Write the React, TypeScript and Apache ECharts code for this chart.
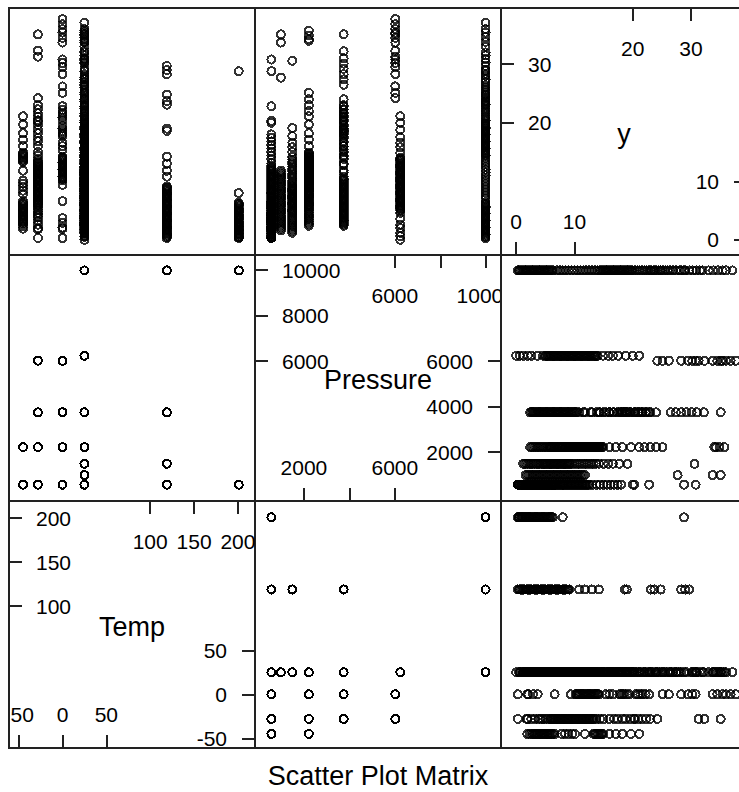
import React, { useEffect, useRef } from "react";
import * as echarts from "echarts";

const FONT = '"Liberation Sans", Arial, Helvetica, sans-serif';

// ---- Data: y values for each (Temp, Pressure) combination ----
const yTm45P570 = [1.9, 2.3, 2.7, 2.9, 3.1, 3.3, 3.5, 3.7, 3.9, 4.1, 4.3, 4.5, 4.7, 4.9, 5.1, 5.3, 5.5, 5.7, 5.9, 6.1, 6.3, 6.6];
const yTm45P2220 = [7.8, 8.4, 9.0, 9.6, 10.1, 11.8, 13.3, 13.5, 13.7, 13.9, 14.1, 14.3, 14.5, 14.7, 14.9, 16.0, 17.1, 18.2, 19.7, 21.1];

const yTm28P570 = [0.3, 1.8, 2.0, 2.6, 3.2, 3.8, 4.2, 4.6, 5.0, 5.4];
const yTm28P2220 = [5.8, 6.0, 6.2, 6.4, 6.6, 6.8, 7.0, 7.2, 7.4, 7.6, 7.8, 8.0, 8.2, 8.4, 8.6, 8.8, 9.0, 9.2, 9.4, 9.6, 9.8, 10.0, 10.2, 10.4, 10.6, 10.8, 11.0, 11.2, 11.4, 11.6, 11.8, 12.0, 12.2, 12.4, 12.6, 12.8, 13.0, 13.2, 13.4];
const yTm28P3750 = [13.8, 14.4, 15.0, 16.0, 16.8, 17.4, 18.2, 18.8, 19.6, 20.2, 20.4, 21.0, 21.6, 22.3, 23.0];
const yTm28P6020 = [24.2, 31.3, 32.3, 35.1];

const yT0P570 = [0.3, 1.9, 2.1, 2.9, 3.7, 6.6];
const yT0P2220 = [9.4, 10.2, 10.4, 10.6, 10.8, 11.0, 11.2, 11.4, 11.6, 11.8, 12.0, 12.2, 12.4, 12.6, 12.8, 13.0, 13.2, 13.4, 13.6, 13.8, 14.0, 14.2];
const yT0P3750 = [15.4, 16.0, 16.6, 17.7, 18.0, 18.3, 18.6, 19.0, 19.4, 20.5, 20.9, 21.3, 21.7, 22.2, 22.8];
const yT0P6020 = [25.1, 26.2, 28.3, 29.5, 30.2, 30.8, 33.7, 34.5, 35.4, 36.0, 36.8, 37.7];

const yT25P570 = [0.5, 0.8, 1.1, 1.4, 1.7, 2.0, 2.3, 2.6, 2.9, 3.2, 3.5, 3.8, 4.1, 4.4, 4.7, 5.0, 5.3, 5.6, 5.9, 6.1, 6.3, 6.5, 6.7, 6.9, 7.1, 7.3, 7.5, 7.7, 7.9, 8.1, 8.3, 8.5, 8.7, 8.9, 9.1, 9.3, 9.5, 9.7, 9.9, 10.1, 10.3, 10.5, 10.7, 10.9, 11.1, 11.3, 11.5, 11.7, 11.9, 12.1, 12.3, 12.6, 13.1, 13.8, 14.4, 15.0, 15.6, 16.2, 16.8, 17.4, 18.0, 20.0, 20.3, 22.8, 28.8, 30.8];
const yT25P990 = [1.6, 1.9, 2.2, 2.5, 2.8, 3.1, 3.4, 3.7, 4.0, 4.3, 4.6, 4.9, 5.2, 5.5, 5.8, 6.1, 6.4, 6.7, 7.0, 7.3, 7.6, 7.9, 8.2, 8.5, 8.8, 9.1, 9.4, 9.7, 10.0, 10.3, 10.6, 10.9, 11.2, 11.5, 11.8, 27.7, 33.7, 35.1];
const yT25P1490 = [1.2, 1.5, 1.8, 2.1, 2.4, 2.7, 3.0, 3.3, 3.6, 3.9, 4.2, 4.5, 9.3, 9.7, 10.1, 10.5, 10.9, 11.3, 11.7, 12.1, 12.5, 12.9, 13.3, 13.7, 14.2, 15.0, 15.8, 16.6, 17.7, 19.1, 30.6];
const yT25P2220 = [2.4, 2.7, 3.0, 3.3, 3.6, 3.9, 4.2, 4.5, 4.8, 5.1, 5.4, 5.7, 6.0, 22.0, 23.0, 24.0, 25.1, 34.0, 34.3, 34.9, 35.7];
const yT25P3750 = [2.4, 2.6, 2.8, 3.0, 3.2, 3.4, 3.6, 3.8, 4.0, 4.2, 4.4, 4.6, 4.8, 5.0, 5.2, 5.4, 5.6, 5.8, 6.0, 6.2, 6.4, 6.6, 6.8, 7.0, 7.2, 7.4, 7.6, 7.8, 8.0, 8.2, 8.4, 8.6, 8.8, 9.0, 9.2, 9.4, 9.6, 9.8, 10.0, 10.2, 10.4, 11.5, 12.8, 24.0, 26.5, 27.4, 28.3, 29.2, 30.1, 31.0, 32.2, 35.1];
const yT25P6240 = [0.0, 0.6, 1.2, 2.0, 2.6, 3.6, 4.6, 5.0, 5.2, 5.4, 5.6, 5.8, 6.0, 6.2, 6.4, 6.6, 6.8, 7.0, 7.2, 7.4, 7.6, 7.8, 8.0, 8.2, 8.4, 8.6, 8.8, 9.0, 9.2, 9.4, 9.6, 9.8, 10.0, 10.2, 10.4, 10.6, 10.8, 11.0, 11.2, 11.4, 11.6, 11.8, 12.0, 12.2, 12.4, 12.6, 12.8, 13.0, 13.2, 13.4, 13.6, 13.8, 14.0, 14.9, 15.8, 16.6, 17.5, 18.8, 20.0, 21.1];
const yT25P9990 = [7.0, 7.5, 8.0, 8.5, 9.0, 9.5, 10.0, 10.5, 11.0, 11.5, 12.0, 12.5, 13.0, 13.5, 14.0, 14.4, 14.6, 14.8, 15.0, 15.2, 15.4, 15.6, 15.8, 16.0, 16.2, 16.4, 16.6, 16.8, 17.0, 17.2, 17.4, 17.6, 17.8, 18.0, 18.2, 18.4, 18.6, 18.8, 19.0, 19.2, 19.4, 19.6, 19.8, 20.0, 20.4, 20.8, 21.2, 21.6, 22.0, 22.4, 22.8, 23.2, 23.6, 24.0, 24.4, 24.8, 25.2, 25.6, 26.0, 26.4, 26.9, 27.4, 28.0, 30.3, 30.9, 31.5, 32.0, 33.0, 33.8, 34.6, 35.4, 36.0, 37.1];

const yT119P570 = [0.3, 0.5, 0.7, 0.9, 1.1, 1.3, 1.5, 1.7, 1.9, 2.1, 2.3, 2.5, 2.7, 2.9, 3.1, 3.3, 3.5, 3.7, 3.9, 4.1, 4.3, 4.5];
const yT119P1490 = [4.7, 4.9, 5.1, 5.3, 5.5, 5.7, 5.9, 6.1, 6.3, 6.5, 6.7, 6.9, 7.1, 7.3, 7.5, 7.7, 7.9, 8.1, 8.3, 8.5, 8.7, 8.9, 9.1];
const yT119P3750 = [10.8, 11.8, 13.0, 14.2, 18.6, 19.0];
const yT119P9990 = [23.1, 23.7, 24.8, 28.3, 29.0, 29.7];

const yT201P570 = [0.4, 1.0, 1.6, 2.2, 8.0];
const yT201P9990 = [0.3, 0.5, 0.7, 0.9, 1.1, 1.3, 1.5, 1.7, 1.9, 2.1, 2.3, 2.5, 2.7, 2.9, 3.1, 3.3, 3.5, 3.7, 3.9, 4.1, 4.3, 4.5, 4.7, 4.9, 5.1, 5.3, 5.5, 5.7, 5.9, 6.1, 6.3, 28.8];

// [Temp, Pressure, y values]
const groups: [number, number, number[]][] = [
  [-45, 570, yTm45P570],
  [-45, 2220, yTm45P2220],
  [-28, 570, yTm28P570],
  [-28, 2220, yTm28P2220],
  [-28, 3750, yTm28P3750],
  [-28, 6020, yTm28P6020],
  [0, 570, yT0P570],
  [0, 2220, yT0P2220],
  [0, 3750, yT0P3750],
  [0, 6020, yT0P6020],
  [25, 570, yT25P570],
  [25, 990, yT25P990],
  [25, 1490, yT25P1490],
  [25, 2220, yT25P2220],
  [25, 3750, yT25P3750],
  [25, 6240, yT25P6240],
  [25, 9990, yT25P9990],
  [119, 570, yT119P570],
  [119, 1490, yT119P1490],
  [119, 3750, yT119P3750],
  [119, 9990, yT119P9990],
  [201, 570, yT201P570],
  [201, 9990, yT201P9990],
];

// ---- Axes ----
const colVars = ["Temp", "Pressure", "y"];
const rowVars = ["y", "Pressure", "Temp"];
const varRanges: Record<string, [number, number]> = {
  Temp: [-61, 219.5],
  Pressure: [-150, 10670],
  y: [-2.6, 39.6],
};
const tempBottomTicks = [-50, 0, 50];
const tempTopTicks = [100, 150, 200];
const tempLeftTicks = [100, 150, 200];
const tempRightTicks = [-50, 0, 50];
const pressureBottomTicks = [2000, 4000, 6000];
const pressureBottomLabels = [2000, 6000];
const pressureTopTicks = [6000, 8000, 10000];
const pressureTopLabels = [6000, 10000];
const pressureLeftTicks = [6000, 8000, 10000];
const pressureRightTicks = [2000, 4000, 6000];
const yBottomTicks = [0, 10];
const yTopTicks = [20, 30];
const yLeftTicks = [20, 30];
const yRightTicks = [0, 10];

const axisSets: Record<string, any> = {
  Temp: {
    bottom: [tempBottomTicks, tempBottomTicks],
    top: [tempTopTicks, tempTopTicks],
    left: [tempLeftTicks, tempLeftTicks],
    right: [tempRightTicks, tempRightTicks],
  },
  Pressure: {
    bottom: [pressureBottomTicks, pressureBottomLabels],
    top: [pressureTopTicks, pressureTopLabels],
    left: [pressureLeftTicks, pressureLeftTicks],
    right: [pressureRightTicks, pressureRightTicks],
  },
  y: {
    bottom: [yBottomTicks, yBottomTicks],
    top: [yTopTicks, yTopTicks],
    left: [yLeftTicks, yLeftTicks],
    right: [yRightTicks, yRightTicks],
  },
};

const colX = [9, 255, 501];
const rowY = [8, 255, 501];
const cellW = 246;
const cellH = [247, 246, 247];
const BORDER = "#222";

function diagAxis(g: number, pos: string, v: string, margin: number) {
  const [min, max] = varRanges[v];
  const [ticks, labels] = axisSets[v][pos];
  return {
    gridIndex: g,
    type: "value",
    position: pos,
    min,
    max,
    axisLine: { show: false, onZero: false },
    splitLine: { show: false },
    axisTick: {
      show: true,
      inside: true,
      length: 13,
      lineStyle: { color: BORDER, width: 2 },
      customValues: ticks,
    },
    axisLabel: {
      show: true,
      inside: true,
      margin,
      fontSize: 21,
      color: "#000",
      fontFamily: FONT,
      customValues: labels,
      formatter: (val: number) => String(val),
    },
  };
}

function buildOption() {
  const records = groups.flatMap(([t, p, ys]) =>
    ys.map((v) => ({ Temp: t, Pressure: p, y: v } as Record<string, number>))
  );
  const grids: any[] = [];
  const xAxes: any[] = [];
  const yAxes: any[] = [];
  const series: any[] = [];
  const graphics: any[] = [];
  for (let r = 0; r < 3; r++) {
    for (let c = 0; c < 3; c++) {
      const g = grids.length;
      grids.push({
        left: colX[c],
        top: rowY[r],
        width: cellW,
        height: cellH[r],
        show: true,
        borderColor: BORDER,
        borderWidth: 2,
        backgroundColor: "transparent",
        containLabel: false,
        outerBoundsMode: "none",
      });
      const xv = colVars[c];
      const yv = rowVars[r];
      if (r + c === 2) {
        xAxes.push(diagAxis(g, "bottom", xv, 23));
        xAxes.push(diagAxis(g, "top", xv, 30));
        yAxes.push(diagAxis(g, "left", yv, 27));
        yAxes.push(diagAxis(g, "right", yv, 28));
        graphics.push({
          type: "text",
          x: colX[c] + cellW / 2,
          y: rowY[r] + cellH[r] / 2 + 2,
          z: 10,
          style: {
            text: xv,
            fontSize: 27,
            fontFamily: FONT,
            fill: "#000",
            align: "center",
            verticalAlign: "middle",
          },
        });
      } else {
        xAxes.push({ gridIndex: g, type: "value", min: varRanges[xv][0], max: varRanges[xv][1], show: false });
        yAxes.push({ gridIndex: g, type: "value", min: varRanges[yv][0], max: varRanges[yv][1], show: false });
        series.push({
          type: "scatter",
          xAxisIndex: xAxes.length - 1,
          yAxisIndex: yAxes.length - 1,
          data: records.map((d) => [d[xv], d[yv]]),
          symbol: "circle",
          symbolSize: 8,
          itemStyle: { color: "rgba(0,0,0,0)", borderColor: "#000", borderWidth: 2 },
          silent: true,
          progressive: 0,
          emphasis: { disabled: true },
        });
      }
    }
  }
  // clip label overflow at panel borders, as in the original
  graphics.push({ type: "rect", z: 50, shape: { x: 502, y: 280, width: 16, height: 30 }, style: { fill: "#fff" } });
  graphics.push({ type: "line", z: 51, shape: { x1: 501, y1: 255, x2: 501, y2: 501 }, style: { stroke: BORDER, lineWidth: 2 } });
  graphics.push({ type: "rect", z: 50, shape: { x: 0, y: 695, width: 8, height: 40 }, style: { fill: "#fff" } });
  graphics.push({ type: "line", z: 51, shape: { x1: 9, y1: 501, x2: 9, y2: 748 }, style: { stroke: BORDER, lineWidth: 2 } });

  return {
    animation: false,
    backgroundColor: "#fff",
    title: {
      text: "Scatter Plot Matrix",
      left: 378,
      top: 762,
      padding: 0,
      textAlign: "center",
      textStyle: { fontSize: 27, fontWeight: "normal", color: "#000", fontFamily: FONT },
    },
    grid: grids,
    xAxis: xAxes,
    yAxis: yAxes,
    series,
    graphic: { elements: graphics },
  };
}

export default function App() {
  const ref = useRef<HTMLDivElement>(null);
  useEffect(() => {
    document.body.style.margin = "0";
    if (!ref.current) return;
    const chart = echarts.init(ref.current, undefined, { renderer: "svg" });
    chart.setOption(buildOption() as any);
    return () => chart.dispose();
  }, []);
  return (
    <div id="splom">
      <style>{`#splom svg path { shape-rendering: crispEdges; }`}</style>
      <div ref={ref} style={{ width: 739, height: 792 }} />
    </div>
  );
}
